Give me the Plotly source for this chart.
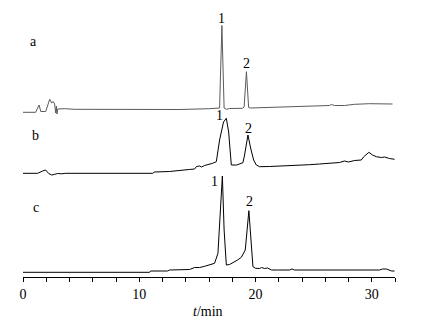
import plotly.graph_objects as go

# Chromatogram a (standard)
t_a = [0, 1.09, 1.38, 1.53, 1.95, 2.30, 2.47, 2.60, 2.72, 2.81, 2.87, 2.92, 2.98, 3.59, 4.45, 5.73,
       10.9, 13.5, 16.05, 16.74, 16.91, 17.11, 17.30, 17.50, 17.77, 18.89, 19.02, 19.22, 19.41, 19.58,
       20.35, 22.93, 24.65, 26.36, 26.53, 26.8, 27.66, 28.52, 29.8, 31.79]
s_a = [164.7, 164.7, 172, 165.5, 165.5, 177.7, 174, 175.5, 173, 164, 171, 163, 168, 168.3, 167.7, 167.7,
       168, 167.5, 168.3, 168.3, 169, 251.5, 169, 167.7, 168.5, 168.7, 170, 205.3, 169.5, 169,
       169.3, 170, 170.5, 171.5, 172.5, 171.5, 171.5, 172.7, 173.3, 173]

# Chromatogram b
t_b = [0, 1.26, 1.69, 1.95, 2.21, 2.47, 2.73, 2.98, 3.33, 3.67, 11.15, 11.32, 12.6, 13.9, 14.3, 14.76,
       14.93, 15.19, 15.36, 15.62, 16.05, 16.31, 16.63, 16.91, 17.25, 17.49, 17.69, 17.92, 18.38, 18.92, 19.06,
       19.35, 19.58, 19.84, 20.07, 20.35, 21.2, 22.5, 23.8, 24.65, 25.5, 26.36, 26.8, 27.23, 27.65, 28.0,
       28.52, 29.1, 29.29, 29.75, 30.07, 30.39, 30.84, 31.1, 31.53, 31.96]
s_b = [103.7, 103.7, 106, 107, 103.5, 102, 102.7, 103.5, 103.2, 103.7, 103.7, 105, 105.5, 106.5, 107.5, 108,
       110.5, 111, 110, 111.5, 112.5, 113.7, 115.3, 137, 155, 158.7, 145, 112, 112, 114.3, 122,
       142, 129, 117, 112, 110.3, 110.5, 111, 112, 112.3, 113, 114, 114.5, 114.5, 116, 115,
       116.5, 117, 120, 124.7, 122, 120.3, 119.5, 120, 118.5, 117.7]

# Chromatogram c
t_c = [0, 10.89, 10.98, 12.44, 12.61, 14.33, 14.76, 15.19, 15.62, 16.05, 16.48, 16.77, 17.15, 17.30, 17.49,
       17.77, 18.06, 18.46, 18.78, 19.12, 19.43, 19.58, 19.78, 20.01, 20.35, 20.52, 20.78, 21.04, 21.38,
       21.9, 22.93, 23.13, 23.36, 30.67, 30.93, 31.27, 31.7, 31.96]
s_c = [4.7, 4.7, 6, 6, 7, 7.5, 9.5, 9.5, 10.7, 12, 13.7, 23.7, 101, 47, 12,
       12.5, 14.3, 17, 19.7, 27, 66.3, 37, 10.3, 8.7, 8.5, 9.5, 8.5, 9, 7,
       7, 7, 8, 7, 7, 8, 8, 6, 6]

trace_names = ["a", "b", "c"]
trace_label_t = [0.86, 1.09, 1.09]
trace_label_s = [235.3, 142, 69.3]

peak_labels = ["1", "2", "1", "2", "1", "2"]
peak_label_t = [17.08, 19.23, 16.9, 19.38, 16.5, 19.5]
peak_label_s = [259, 214, 162, 148.7, 95.3, 75.3]

major_ticks = [0, 10, 20, 30]

FONT = "Liberation Serif, Times New Roman, serif"
FS = 14

fig = go.Figure()
fig.add_trace(go.Scatter(x=t_a, y=s_a, mode="lines", line=dict(color="#5a5a5a", width=1), showlegend=False))
fig.add_trace(go.Scatter(x=t_b, y=s_b, mode="lines", line=dict(color="#000000", width=1), showlegend=False))
fig.add_trace(go.Scatter(x=t_c, y=s_c, mode="lines", line=dict(color="#000000", width=1), showlegend=False))

for name, tx, sy in zip(trace_names, trace_label_t, trace_label_s):
    fig.add_annotation(x=tx, y=sy, text=name, showarrow=False,
                       font=dict(family=FONT, size=FS, color="#000"),
                       xanchor="center", yanchor="middle")
for name, tx, sy in zip(peak_labels, peak_label_t, peak_label_s):
    fig.add_annotation(x=tx, y=sy, text=name, showarrow=False,
                       font=dict(family=FONT, size=FS, color="#000"),
                       xanchor="center", yanchor="middle")

fig.add_annotation(x=0.497, y=-0.125, xref="paper", yref="paper", text="<i>t</i>/min",
                   showarrow=False, font=dict(family=FONT, size=FS, color="#000"),
                   xanchor="center", yanchor="middle")

fig.update_xaxes(range=[0, 32], tickvals=major_ticks, ticktext=[str(v) for v in major_ticks],
                 showline=True, linecolor="#000", linewidth=1, ticks="outside", ticklen=4,
                 tickcolor="#000", tickfont=dict(family=FONT, size=FS, color="#000"),
                 showgrid=False, zeroline=False,
                 minor=dict(dtick=2, tick0=0, ticks="outside", ticklen=4, tickcolor="#000", showgrid=False))
fig.update_yaxes(range=[0, 277], visible=False, showgrid=False, zeroline=False)

fig.update_layout(width=426, height=323, margin=dict(l=23, r=31, t=0, b=46),
                  plot_bgcolor="white", paper_bgcolor="white")

fig.write_html("out.html", config={"displayModeBar": False},
               post_script="document.body.style.margin='0';document.body.style.padding='0';")
